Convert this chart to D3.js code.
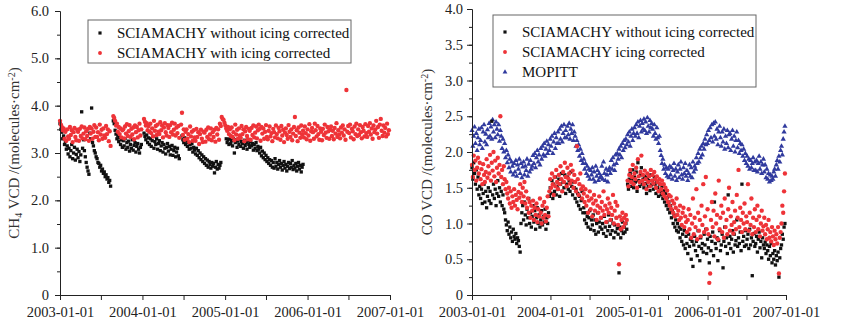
<!DOCTYPE html>
<html>
<head>
<meta charset="utf-8">
<script src="https://cdn.jsdelivr.net/npm/d3@7"></script>
<style>
  body { margin: 0; background: #fff; }
  svg { display: block; font-family: 'Liberation Serif', 'Times New Roman', serif; }
</style>
</head>
<body>
<svg id="chart" width="843" height="329"></svg>
<script>
// every series: one value each 4 days from 2003-01-01 (null = no data)
const startDate = new Date(Date.UTC(2003, 0, 1));
const endDate = new Date(Date.UTC(2007, 0, 1));
const stepDays = 4;

// CH4 VCD, SCIAMACHY with icing corrected
const ch4Corr = [
  3.68, 3.60, 3.55, 3.48, 3.52, 3.30, 3.45, 3.26, 3.50, 3.35,
  3.30, 3.55, 3.38, 3.48, 3.23, 3.44, 3.53, 3.34, 3.27, 3.49,
  3.45, 3.26, 3.51, 3.36, 3.56, 3.31, 3.41, 3.54, 3.29, 3.46,
  3.36, 3.51, 3.26, 3.55, 3.41, 3.52, 3.30, 3.45, 3.59, 3.34,
  3.54, 3.34, 3.44, 3.27, 3.60, 3.39, 3.49, 3.30, 3.52, 3.37,
  3.32, 3.57, 3.40, 3.50, 3.25, 3.46, 3.15, null, null, 3.78,
  3.74, 3.68, 3.58, 3.62, 3.45, 3.55, 3.40, 3.52, 3.33, 3.48,
  3.50, 3.31, 3.56, 3.41, 3.61, 3.36, 3.46, 3.59, 3.34, 3.51,
  3.39, 3.54, 3.29, 3.58, 3.44, 3.55, 3.33, 3.48, 3.62, 3.37,
  3.50, null, null, 3.72, 3.66, 3.58, 3.63, 3.48, 3.57, 3.45,
  3.62, 3.42, 3.52, 3.35, 3.68, 3.47, 3.57, 3.38, 3.60, 3.45,
  3.40, 3.65, 3.48, 3.58, 3.33, 3.54, 3.63, 3.44, 3.37, 3.59,
  3.53, 3.34, 3.59, 3.44, 3.64, 3.39, 3.49, 3.62, 3.37, 3.54,
  3.42, 3.57, 3.32, null, 3.60, 3.85, 3.38, 3.50, 3.28, 3.45,
  3.50, 3.30, 3.40, 3.23, 3.56, 3.35, 3.45, 3.26, 3.48, 3.33,
  3.26, 3.51, 3.34, 3.44, 3.19, 3.40, 3.49, 3.30, 3.23, 3.45,
  3.43, 3.24, 3.49, 3.34, 3.54, 3.29, 3.39, 3.52, 3.27, 3.44,
  3.34, 3.49, 3.24, 3.53, 3.39, 3.50, 3.28, 3.62, 3.57, 3.76,
  3.72, 3.70, 3.64, 3.58, 3.52, 3.47, 3.55, 3.40, 3.50, 3.36,
  3.54, 3.34, 3.44, 3.27, 3.60, 3.39, 3.49, 3.30, 3.52, 3.37,
  3.32, 3.57, 3.40, 3.50, 3.25, 3.46, 3.55, 3.36, 3.29, 3.51,
  3.47, 3.28, 3.53, 3.38, 3.58, 3.33, 3.43, 3.56, 3.31, 3.48,
  3.60, 3.51, 3.26, 3.55, 3.41, 3.52, 3.30, 3.45, 3.59, 3.34,
  3.29, 3.47, 3.56, 3.35, 3.42, 3.25, 3.51, 3.44, 3.33, 3.58,
  3.40, 3.31, 3.53, 3.46, 3.28, 3.57, 3.37, 3.49, 3.23, 3.43,
  3.52, 3.38, 3.30, 3.59, 3.45, 3.34, 3.50, 3.27, 3.41, 3.55,
  3.76, 3.36, 3.48, 3.25, 3.54, 3.43, 3.32, 3.58, 3.39, 3.47,
  3.33, 3.56, 3.42, 3.29, 3.50, 3.37, 3.61, 3.26, 3.46, 3.53,
  3.44, 3.30, 3.62, 3.48, 3.35, 3.57, 3.40, 3.28, 3.52, 3.45,
  3.27, 3.51, 3.38, 3.60, 3.43, 3.32, 3.55, 3.46, 3.30, 3.49,
  3.56, 3.36, 3.47, 3.29, 3.53, 3.41, 3.63, 3.34, 3.48, 3.39,
  3.31, 3.54, 3.43, 3.58, 3.37, 3.50, 3.28, 4.33, 3.45, 3.57,
  3.42, 3.60, 3.33, 3.51, 3.46, 3.29, 3.56, 3.40, 3.62, 3.36,
  3.50, 3.38, 3.59, 3.44, 3.31, 3.55, 3.47, 3.35, 3.61, 3.42,
  3.34, 3.57, 3.45, 3.63, 3.39, 3.52, 3.30, 3.58, 3.44, 3.50,
  3.68, 3.41, 3.55, 3.32, 3.60, 3.72, 3.47, 3.36, 3.58, 3.43,
  3.53, 3.35, 3.62, 3.40, 3.48
];

// CH4 VCD, SCIAMACHY without icing corrected
const ch4Raw = [
  3.62, 3.50, 3.44, 3.30, 3.36, 3.18, 3.24, 3.08, 3.15, 2.98,
  3.10, 2.92, 3.05, 3.18, 2.88, 3.00, 3.12, 2.85, 2.97, 3.08,
  2.90, 3.03, 2.82, 2.96, 3.87, 3.10, 3.28, 3.05, 2.92, 2.80,
  2.70, 2.62, 2.55, 3.42, 3.30, 3.95, 3.22, 3.15, 3.05, 3.00,
  2.92, 2.88, 2.80, 2.78, 2.70, 2.74, 2.62, 2.66, 2.57, 2.60,
  2.50, 2.54, 2.45, 2.48, 2.38, 2.42, 2.30, null, null, 3.68,
  3.62, 3.48, 3.40, 3.30, 3.36, 3.24, 3.32, 3.18, 3.28, 3.12,
  3.26, 3.15, 3.30, 3.08, 3.22, 3.12, 3.25, 3.04, 3.18, 3.10,
  3.28, 3.06, 3.16, 3.22, 3.02, 3.14, 3.20, 3.08, 3.00, 3.12,
  3.18, null, null, 3.42, 3.35, 3.28, 3.38, 3.22, 3.32, 3.18,
  3.30, 3.14, 3.26, 3.35, 3.10, 3.24, 3.18, 3.30, 3.08, 3.20,
  3.26, 3.05, 3.15, 3.22, 3.02, 3.18, 3.10, 2.98, 3.12, 3.20,
  3.04, 3.14, 2.96, 3.08, 3.16, 2.95, 3.05, 3.12, 2.92, 3.02,
  3.10, 2.94, 2.88, null, null, 3.36, 3.28, 3.22, 3.32, 3.18,
  3.25, 3.14, 3.22, 3.08, 3.18, 3.10, 3.20, 3.02, 3.12, 3.06,
  2.98, 3.10, 2.95, 3.05, 2.90, 3.00, 2.86, 2.96, 2.82, 2.92,
  2.78, 2.88, 2.74, 2.85, 2.70, 2.82, 2.76, 2.68, 2.80, 2.72,
  2.78, 2.58, 2.70, 2.82, 2.66, 2.76, 2.68, 2.74, 2.80, null,
  null, null, null, null, 3.30, 3.22, 3.28, 3.18, 3.30, 3.20,
  3.26, 3.15, 3.30, 3.00, 3.22, 3.28, 3.12, 3.25, 3.18, 3.30,
  3.14, 3.24, 3.20, 3.10, 3.27, 3.16, 3.22, 3.08, 3.25, 3.18,
  3.12, 3.24, 3.15, 3.20, 3.06, 3.18, 3.10, 3.22, 3.05, 3.14,
  3.08, 3.00, 3.12, 2.94, 3.04, 2.90, 3.00, 2.86, 2.95, 2.82,
  2.90, 2.78, 2.86, 2.74, 2.84, 2.70, 2.80, 2.68, 2.88, 2.72,
  2.80, 2.66, 2.76, 2.84, 2.70, 2.78, 2.64, 2.74, 2.82, 2.68,
  2.76, 2.62, 2.72, 2.80, 2.67, 2.78, 2.70, 2.84, 2.65, 2.74,
  2.68, 2.78, 2.62, 2.72, 2.80, 2.66, 2.74, 2.60, 2.70, 2.76
];

// CO VCD, MOPITT
const coMopitt = [
  2.30, 2.08, 2.22, 2.35, 2.12, 2.26, 2.02, 2.20, 2.32, 2.10,
  2.16, 2.34, 2.05, 2.28, 2.38, 2.14, 2.25, 2.10, 2.31, 2.20,
  2.40, 2.22, 2.35, 2.18, 2.45, 2.28, 2.38, 2.20, 2.42, 2.32,
  2.24, 2.38, 2.15, 2.30, 2.22, 2.05, 2.18, 2.00, 2.12, 1.92,
  2.02, 1.85, 1.96, 1.78, 1.90, 1.72, 1.86, 1.80, 1.68, 1.84,
  1.72, 1.88, 1.66, 1.82, 1.76, 1.90, 1.70, 1.84, 1.64, 1.79,
  1.86, 1.68, 1.80, 1.74, 1.90, 1.66, 1.83, 1.72, 1.88, 1.76,
  1.80, 1.95, 1.84, 1.98, 1.78, 1.92, 2.02, 1.86, 1.96, 1.82,
  2.05, 1.90, 2.08, 1.96, 2.12, 1.94, 2.04, 2.15, 1.98, 2.10,
  2.02, 2.18, 2.08, 2.22, 1.98, 2.14, 2.26, 2.05, 2.20, 2.12,
  2.28, 2.12, 2.32, 2.18, 2.36, 2.14, 2.26, 2.38, 2.20, 2.30,
  2.20, 2.36, 2.24, 2.40, 2.18, 2.32, 2.26, 2.38, 2.16, 2.28,
  2.22, 2.08, 2.16, 2.02, 2.10, 1.94, 2.04, 1.88, 1.98, 1.84,
  1.90, 1.76, 1.84, 1.70, 1.80, 1.66, 1.76, 1.62, 1.74, 1.68,
  1.78, 1.62, 1.72, 1.58, 1.80, 1.66, 1.74, 1.60, 1.70, 1.64,
  1.66, 1.80, 1.62, 1.86, 1.70, 1.60, 1.76, 1.68, 1.58, 1.74,
  1.78, 1.70, 1.88, 1.76, 1.92, 1.82, 1.74, 1.96, 1.84, 1.98,
  1.90, 2.04, 1.96, 2.08, 1.92, 2.12, 2.02, 2.16, 2.06, 2.18,
  2.10, 2.24, 2.14, 2.28, 2.08, 2.22, 2.32, 2.16, 2.26, 2.34,
  2.22, 2.38, 2.26, 2.42, 2.20, 2.36, 2.44, 2.28, 2.40, 2.32,
  2.46, 2.30, 2.42, 2.26, 2.48, 2.36, 2.28, 2.44, 2.34, 2.40,
  2.32, 2.22, 2.38, 2.26, 2.18, 2.34, 2.20, 2.12, 2.22, 2.02,
  1.95, 1.84, 1.90, 1.76, 1.82, 1.70, 1.78, 1.66, 1.76, 1.64,
  1.80, 1.68, 1.78, 1.62, 1.74, 1.84, 1.66, 1.76, 1.60, 1.72,
  1.82, 1.64, 1.76, 1.86, 1.68, 1.62, 1.78, 1.70, 1.84, 1.66,
  1.74, 1.60, 1.70, 1.82, 1.66, 1.78, 1.64, 1.86, 1.72, 1.80,
  1.76, 1.92, 1.84, 1.98, 1.86, 2.04, 1.92, 2.08, 1.96, 2.12,
  2.04, 2.18, 2.10, 2.24, 2.12, 2.30, 2.16, 2.34, 2.20, 2.38,
  2.14, 2.40, 2.22, 2.42, 2.18, 2.32, 2.10, 2.28, 2.36, 2.20,
  2.08, 2.28, 2.14, 2.32, 2.04, 2.22, 2.12, 2.30, 2.06, 2.24,
  2.26, 2.02, 2.18, 2.30, 2.08, 2.22, 2.00, 2.16, 2.28, 2.06,
  2.16, 1.98, 2.12, 2.02, 2.10, 1.94, 2.04, 1.88, 1.98, 1.84,
  1.94, 1.80, 1.90, 1.76, 1.88, 1.78, 1.84, 1.92, 1.74, 1.86,
  1.74, 1.88, 1.72, 1.84, 1.94, 1.76, 1.86, 1.70, 1.82, 1.90,
  1.72, 1.82, 1.64, 1.76, 1.62, 1.70, 1.58, 1.68, 1.60, 1.66,
  1.62, 1.72, 1.76, 1.66, 1.82, 1.88, 1.76, 1.94, 1.86, 2.02,
  2.08, 1.96, 2.18, 2.28, 2.36
];

// CO VCD, SCIAMACHY icing corrected
const coCorr = [
  1.82, 1.65, 1.95, 1.75, 1.88, 1.60, 1.78, 1.92, 1.70, 1.85,
  1.62, 1.76, 1.55, 1.83, 1.68, 1.58, 1.72, 1.90, 1.64, 1.80,
  1.70, 1.96, 1.60, 1.85, 1.74, 2.00, 1.66, 1.88, 1.58, 1.78,
  1.92, 1.70, 1.82, 2.50, 1.65, 1.75, 1.55, 1.80, 1.62, 1.48,
  1.58, 1.42, 1.35, 1.50, 1.28, 1.45, 1.22, 1.38, 1.30, 1.48,
  1.25, 1.40, 1.33, 1.20, 1.44, 1.36, 1.55, 1.42, 1.30, 1.50,
  1.38, 1.58, 1.28, 1.45, 1.22, 1.35, 1.15, 1.30, 1.08, 1.25,
  1.18, 1.32, 1.05, 1.22, 1.12, 1.28, 1.02, 1.20, 1.10, 1.35,
  1.15, 1.00, 1.25, 1.08, 1.30, 1.12, 1.03, 1.22, 1.38, 1.10,
  1.45, 1.62, 1.50, 1.70, 1.55, 1.40, 1.65, 1.52, 1.75, 1.58,
  1.48, 1.68, 1.55, 1.80, 1.62, 1.45, 1.72, 1.58, 1.85, 1.65,
  1.52, 1.78, 1.63, 1.70, 1.56, 1.82, 1.60, 1.74, 1.50, 1.68,
  1.58, 1.45, 2.08, 1.62, 1.40, 1.55, 1.70, 1.48, 1.35, 1.52,
  1.42, 1.30, 1.48, 1.25, 1.38, 1.15, 1.32, 1.45, 1.20, 1.35,
  1.10, 1.28, 1.40, 1.18, 1.32, 1.05, 1.25, 1.15, 1.38, 1.22,
  1.08, 1.30, 1.18, 1.45, 1.12, 1.25, 1.02, 1.20, 1.35, 1.15,
  1.28, 1.05, 1.22, 1.12, 1.40, 1.00, 1.18, 1.30, 1.08, 1.25,
  0.98, 0.43, 1.10, 0.92, 1.05, 1.15, 0.95, 1.08, 1.00, 1.12,
  1.05, 1.60, 1.52, 1.68, 1.75, 1.58, 1.65, 1.82, 1.55, 1.70,
  1.62, 1.78, 1.50, 1.90, 1.66, 1.58, 1.72, 1.95, 1.60, 1.68,
  1.55, 1.74, 1.62, 1.48, 1.70, 1.58, 1.66, 1.52, 1.75, 1.60,
  1.68, 1.56, 1.72, 1.62, 1.50, 1.66, 1.58, 1.45, 1.62, 1.55,
  1.48, 1.60, 1.42, 1.55, 1.38, 1.50, 1.35, 1.46, 1.30, 1.40,
  1.25, 1.38, 1.20, 1.32, 1.15, 1.28, 1.10, 1.22, 1.35, 1.12,
  1.18, 1.05, 1.25, 1.08, 0.98, 1.15, 1.22, 0.95, 1.10, 1.02,
  0.88, 1.05, 1.20, 0.92, 1.12, 0.80, 1.00, 1.35, 0.85, 1.08,
  0.95, 1.48, 0.78, 1.15, 0.90, 1.05, 0.82, 1.25, 0.98, 1.55,
  0.88, 1.10, 1.65, 0.92, 1.20, 0.85, 0.17, 0.30, 1.05, 1.30,
  0.95, 1.18, 0.82, 1.42, 1.00, 1.12, 0.78, 1.60, 0.92, 1.08,
  1.25, 0.88, 1.15, 0.80, 1.35, 0.95, 1.05, 0.85, 1.20, 1.50,
  0.90, 1.10, 0.98, 1.30, 0.86, 1.02, 1.18, 0.92, 1.40, 1.08,
  1.75, 0.95, 1.22, 1.05, 0.88, 1.15, 1.00, 1.28, 0.92, 1.10,
  1.02, 1.55, 0.90, 1.15, 0.98, 1.35, 0.85, 1.08, 0.95, 1.20,
  0.88, 1.05, 1.25, 0.92, 1.10, 0.82, 1.00, 1.18, 0.90, 0.96,
  1.08, 0.85, 0.98, 0.78, 0.92, 1.05, 0.80, 0.88, 0.75, 0.95,
  0.82, 0.70, 0.90, 0.78, 0.85, 0.72, 0.95, 0.30, 0.80, 0.88,
  1.00, 1.25, 1.15, 1.45, 1.70
];

// CO VCD, SCIAMACHY without icing corrected
const coRaw = [
  1.78, 1.62, 1.85, 1.70, 1.55, 1.75, 1.48, 1.65, 1.40, 1.52,
  1.35, 1.48, 1.28, 1.42, 1.55, 1.30, 1.45, 1.22, 1.38, 1.50,
  1.32, 1.45, 1.28, 2.43, 1.40, 1.55, 1.35, 1.48, 1.25, 1.42,
  1.60, 1.38, 1.50, 1.30, 1.45, 1.25, 1.40, 1.20, 1.15, 1.05,
  0.98, 0.90, 1.02, 0.85, 0.95, 0.80, 0.88, 0.75, 0.92, 0.82,
  0.78, 0.86, 0.72, 0.80, 0.76, 0.68, 0.60, 1.00, 1.15, 1.25,
  1.05, 1.30, 1.12, 0.98, 1.20, 1.08, 1.35, 1.00, 1.15, 0.95,
  1.10, 1.25, 1.02, 1.18, 0.92, 1.08, 1.22, 1.00, 1.12, 0.95,
  1.05, 1.18, 0.98, 1.10, 1.02, 1.20, 0.92, 1.08, 1.00, 1.15,
  1.38, 1.50, 1.42, 1.60, 1.35, 1.55, 1.45, 1.65, 1.40, 1.52,
  1.48, 1.62, 1.38, 1.55, 1.70, 1.45, 1.58, 1.50, 1.68, 1.42,
  1.55, 1.65, 1.48, 1.60, 1.45, 1.72, 1.52, 1.40, 1.58, 1.50,
  1.35, 1.48, 1.30, 1.42, 1.25, 1.38, 1.20, 1.32, 1.45, 1.15,
  1.22, 1.05, 1.15, 1.00, 1.10, 0.95, 1.08, 1.18, 0.92, 1.05,
  0.98, 1.12, 0.90, 1.05, 0.85, 1.00, 1.15, 0.88, 1.02, 0.95,
  1.08, 0.92, 1.00, 0.86, 1.10, 0.95, 0.82, 1.02, 0.90, 1.12,
  0.96, 0.85, 1.05, 0.90, 1.00, 0.80, 0.98, 0.88, 1.08, 0.93,
  0.85, 0.31, 0.95, 0.80, 0.90, 1.02, 0.86, 0.95, 0.88, 1.00,
  0.92, 1.55, 1.48, 1.62, 1.70, 1.52, 1.60, 1.75, 1.50, 1.65,
  1.58, 1.72, 1.45, 1.85, 1.60, 1.52, 1.68, 1.78, 1.55, 1.62,
  1.50, 1.66, 1.56, 1.42, 1.64, 1.52, 1.60, 1.46, 1.68, 1.54,
  1.60, 1.48, 1.65, 1.55, 1.42, 1.58, 1.50, 1.38, 1.55, 1.45,
  1.40, 1.52, 1.35, 1.46, 1.30, 1.42, 1.25, 1.36, 1.20, 1.30,
  1.15, 1.25, 1.08, 1.18, 1.00, 1.12, 0.95, 1.05, 0.90, 1.00,
  0.88, 0.95, 0.80, 0.92, 0.75, 0.85, 0.70, 0.90, 0.65, 0.82,
  0.72, 0.58, 0.85, 0.68, 0.78, 0.50, 0.75, 0.40, 0.70, 0.82,
  0.62, 0.75, 0.55, 0.90, 0.68, 0.48, 0.80, 0.65, 0.72, 0.60,
  0.85, 0.70, 0.92, 0.58, 0.78, 0.66, 0.45, 0.82, 0.62, 0.75,
  0.88, 0.55, 1.30, 0.72, 0.65, 0.80, 0.48, 0.76, 0.90, 0.62,
  0.70, 0.85, 0.38, 0.75, 0.95, 0.68, 0.80, 0.58, 1.40, 0.72,
  0.82, 0.65, 0.78, 0.90, 0.60, 0.85, 0.70, 0.76, 1.05, 0.68,
  0.80, 0.72, 0.88, 0.62, 1.55, 0.75, 0.82, 0.68, 0.90, 0.70,
  0.78, 0.85, 0.65, 0.92, 0.70, 0.80, 0.27, 0.75, 0.86, 0.68,
  0.72, 0.82, 0.60, 0.78, 0.88, 0.66, 0.75, 0.52, 0.80, 0.70,
  0.65, 0.74, 0.58, 0.70, 0.62, 0.50, 0.68, 0.55, 0.72, 0.45,
  0.58, 0.50, 0.62, 0.42, 0.55, 0.48, 0.60, 0.25, 0.52, 0.65,
  0.70, 0.85, 0.78, 0.95, 1.00
];

const ch4Ticks = [0, 1, 2, 3, 4, 5, 6];
const coTicks = [0, 0.5, 1, 1.5, 2, 2.5, 3, 3.5, 4];

const svg = d3.select("#chart");

function toPoints(values) {
    return values
        .map((v, i) => ({date: d3.utcDay.offset(startDate, i * stepDays), value: v}))
        .filter(d => d.value !== null);
}

function drawPanel(cfg) {
    const x = d3.scaleUtc().domain([startDate, endDate]).range([cfg.left, cfg.right]);
    const y = d3.scaleLinear().domain([0, cfg.yMax]).range([cfg.bottom, cfg.top]);

    const g = svg.append("g");

    // points
    cfg.series.forEach(s => {
        g.append("g")
            .selectAll("path")
            .data(toPoints(s.values))
            .join("path")
            .attr("transform", d => `translate(${x(d.date)},${y(d.value)})`)
            .attr("d", d3.symbol().type(s.shape).size(s.size))
            .attr("fill", s.color);
    });

    // x axis
    const xAxis = d3.axisBottom(x)
        .tickValues(d3.utcMonth.every(6).range(startDate, d3.utcDay.offset(endDate, 1)))
        .tickFormat(d => d.getUTCMonth() === 0 ? d3.utcFormat("%Y-%m-%d")(d) : "")
        .tickSize(5)
        .tickSizeOuter(0)
        .tickPadding(7);
    g.append("g")
        .attr("transform", `translate(0,${cfg.bottom})`)
        .call(xAxis);

    // y axis minor + major
    const minor = d3.range(0, cfg.yMax + 1e-9, cfg.yMinor);
    g.append("g")
        .attr("transform", `translate(${cfg.left},0)`)
        .call(d3.axisLeft(y).tickValues(minor).tickSize(3).tickSizeOuter(0).tickFormat(""));
    g.append("g")
        .attr("transform", `translate(${cfg.left},0)`)
        .call(d3.axisLeft(y).tickValues(cfg.yTicks).tickSize(5).tickSizeOuter(0)
            .tickPadding(cfg.yPad)
            .tickFormat(d => d === 0 ? "0" : d3.format(".1f")(d)));

    g.selectAll(".domain, .tick line").attr("stroke", "#222").attr("stroke-width", 1);
    g.selectAll(".tick text").attr("font-family", "'Liberation Serif', serif")
        .attr("font-size", 14.5).attr("fill", "#222");

    // y label
    const lab = g.append("text")
        .attr("transform", `translate(${cfg.labelX},${(cfg.top + cfg.bottom) / 2}) rotate(-90)`)
        .attr("text-anchor", "middle")
        .attr("font-size", 15)
        .attr("fill", "#333");
    cfg.label.forEach(part => {
        const t = lab.append("tspan").text(part.text);
        if (part.sub) t.attr("font-size", 10).attr("baseline-shift", "-25%");
        if (part.sup) t.attr("font-size", 10).attr("baseline-shift", "45%");
    });

    // legend
    const lg = g.append("g");
    lg.append("rect")
        .attr("x", cfg.legend.x).attr("y", cfg.legend.y)
        .attr("width", cfg.legend.w).attr("height", cfg.legend.h)
        .attr("fill", "#fff").attr("stroke", "#666").attr("stroke-width", 1);
    cfg.legend.rows.forEach((r, i) => {
        const cy = cfg.legend.y + cfg.legend.first + i * 20;
        lg.append("path")
            .attr("transform", `translate(${cfg.legend.x + 12},${cy})`)
            .attr("d", d3.symbol().type(r.shape).size(r.size))
            .attr("fill", r.color);
        lg.append("text")
            .attr("x", cfg.legend.x + 29).attr("y", cy)
            .attr("dy", "0.35em")
            .attr("font-size", 15)
            .attr("fill", "#111")
            .text(r.name);
    });
}

const black = "#111111", red = "#ee3338", blue = "#303a9e";

drawPanel({
    left: 60, right: 390, top: 11, bottom: 295, yMax: 6,
    yTicks: ch4Ticks, yMinor: 0.5, yPad: 6, labelX: 19,
    label: [{text: "CH"}, {text: "4", sub: true}, {text: " VCD /(molecules·cm"}, {text: "-2", sup: true}, {text: ")"}],
    series: [
        {values: ch4Raw, shape: d3.symbolSquare, size: 11, color: black},
        {values: ch4Corr, shape: d3.symbolCircle, size: 15, color: red}
    ],
    legend: {
        x: 88, y: 20, w: 263, h: 43, first: 13,
        rows: [
            {name: "SCIAMACHY without icing corrected", shape: d3.symbolSquare, size: 10, color: black},
            {name: "SCIAMACHY with icing corrected", shape: d3.symbolCircle, size: 12, color: red}
        ]
    }
});

drawPanel({
    left: 472, right: 786, top: 9, bottom: 295, yMax: 4,
    yTicks: coTicks, yMinor: 0.25, yPad: 4, labelX: 432,
    label: [{text: "CO VCD /(molecules·cm"}, {text: "-2", sup: true}, {text: ")"}],
    series: [
        {values: coMopitt, shape: d3.symbolTriangle, size: 12, color: blue},
        {values: coRaw, shape: d3.symbolSquare, size: 11, color: black},
        {values: coCorr, shape: d3.symbolCircle, size: 15, color: red}
    ],
    legend: {
        x: 493, y: 15, w: 263, h: 72, first: 17,
        rows: [
            {name: "SCIAMACHY without icing corrected", shape: d3.symbolSquare, size: 10, color: black},
            {name: "SCIAMACHY icing corrected", shape: d3.symbolCircle, size: 12, color: red},
            {name: "MOPITT", shape: d3.symbolTriangle, size: 10, color: blue}
        ]
    }
});
</script>
</body>
</html>
